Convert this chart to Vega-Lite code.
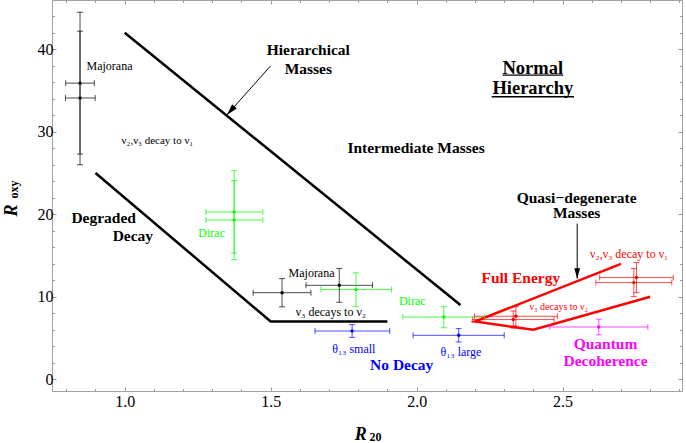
{
  "$schema": "https://vega.github.io/schema/vega-lite/v6.json",
  "width": 630,
  "height": 391,
  "autosize": "none",
  "padding": {"left": 52, "top": 0, "right": 4, "bottom": 52},
  "background": "white",
  "config": {
    "view": {"stroke": "#a0a0a0", "strokeWidth": 1},
    "font": "Liberation Serif",
    "axis": {"domain": false, "grid": false, "tickColor": "#999999", "tickWidth": 1, "labelFont": "Liberation Serif", "labelFontSize": 16, "labelColor": "#000000", "labelOverlap": false, "labelFlush": false, "labelBound": false}
  },
  "datasets": {
    "points": [
      {"series": "Majorana", "x": 0.847, "y": 35.9, "xlo": 0.798, "xhi": 0.896, "ylo": 27.3, "yhi": 44.5},
      {"series": "Majorana", "x": 0.847, "y": 34.1, "xlo": 0.797, "xhi": 0.899, "ylo": 26.0, "yhi": 42.2},
      {"series": "Dirac", "x": 1.375, "y": 20.28, "xlo": 1.278, "xhi": 1.473, "ylo": 15.3, "yhi": 25.3},
      {"series": "Dirac", "x": 1.375, "y": 19.31, "xlo": 1.278, "xhi": 1.473, "ylo": 14.5, "yhi": 24.1},
      {"series": "Majorana", "x": 1.539, "y": 10.5, "xlo": 1.44, "xhi": 1.638, "ylo": 8.78, "yhi": 12.2},
      {"series": "Majorana", "x": 1.735, "y": 11.39, "xlo": 1.621, "xhi": 1.849, "ylo": 9.34, "yhi": 13.44},
      {"series": "Dirac", "x": 1.792, "y": 10.87, "xlo": 1.672, "xhi": 1.914, "ylo": 8.83, "yhi": 12.91},
      {"series": "No Decay", "x": 1.779, "y": 5.85, "xlo": 1.652, "xhi": 1.908, "ylo": 5.08, "yhi": 6.62},
      {"series": "Dirac", "x": 2.093, "y": 7.55, "xlo": 1.953, "xhi": 2.233, "ylo": 6.25, "yhi": 8.85},
      {"series": "No Decay", "x": 2.144, "y": 5.33, "xlo": 1.988, "xhi": 2.3, "ylo": 4.52, "yhi": 6.14},
      {"series": "Full Energy", "x": 2.34, "y": 7.64, "xlo": 2.198, "xhi": 2.482, "ylo": 6.47, "yhi": 8.81},
      {"series": "Full Energy", "x": 2.331, "y": 7.24, "xlo": 2.191, "xhi": 2.471, "ylo": 6.21, "yhi": 8.27},
      {"series": "Full Energy", "x": 2.753, "y": 12.33, "xlo": 2.627, "xhi": 2.879, "ylo": 10.51, "yhi": 14.15},
      {"series": "Full Energy", "x": 2.744, "y": 11.72, "xlo": 2.614, "xhi": 2.874, "ylo": 10.02, "yhi": 13.42},
      {"series": "Quantum Decoherence", "x": 2.624, "y": 6.34, "xlo": 2.456, "xhi": 2.792, "ylo": 5.39, "yhi": 7.29}
    ],
    "lines": [
      {"series": "Model", "seg": "upper", "order": 1, "x": 1.0, "y": 42},
      {"series": "Model", "seg": "upper", "order": 2, "x": 2.15, "y": 9},
      {"series": "Model", "seg": "lower", "order": 1, "x": 0.9, "y": 25},
      {"series": "Model", "seg": "lower", "order": 2, "x": 1.5, "y": 7},
      {"series": "Model", "seg": "lower", "order": 3, "x": 1.9, "y": 7},
      {"series": "Full Energy", "seg": "full", "order": 1, "x": 2.7, "y": 14},
      {"series": "Full Energy", "seg": "full", "order": 2, "x": 2.2, "y": 7},
      {"series": "Full Energy", "seg": "full", "order": 3, "x": 2.4, "y": 6},
      {"series": "Full Energy", "seg": "full", "order": 4, "x": 2.8, "y": 10}
    ]
  },
  "layer": [
    {
      "data": {"name": "lines"},
      "mark": {"type": "line", "strokeWidth": 2.5},
      "encoding": {
        "x": {"field": "x", "type": "quantitative", "scale": {"domain": [0.751, 2.909], "nice": false, "zero": false},
          "axis": {"orient": "bottom", "title": null, "values": [0.8, 0.9, 1.0, 1.1, 1.2, 1.3, 1.4, 1.5, 1.6, 1.7, 1.8, 1.9, 2.0, 2.1, 2.2, 2.3, 2.4, 2.5, 2.6, 2.7, 2.8, 2.9],
            "labelExpr": "abs(datum.value*2-round(datum.value*2))<0.001 ? format(datum.value,'.1f') : ''",
            "tickSize": {"condition": {"test": "abs(datum.value*2-round(datum.value*2))<0.001", "value": -4}, "value": -2.5},
            "labelPadding": 6}},
        "y": {"field": "y", "type": "quantitative", "scale": {"domain": [-1.42, 45.98], "nice": false, "zero": false},
          "axis": {"orient": "left", "title": null, "values": [0, 2, 4, 6, 8, 10, 12, 14, 16, 18, 20, 22, 24, 26, 28, 30, 32, 34, 36, 38, 40, 42, 44],
            "labelExpr": "datum.value % 10 == 0 ? format(datum.value,'d') : ''",
            "tickSize": {"condition": {"test": "datum.value % 10 == 0", "value": -4}, "value": -2.5},
            "labelPadding": 3}},
        "color": {"field": "series", "type": "nominal", "scale": {"domain": ["Majorana", "Dirac", "No Decay", "Full Energy", "Quantum Decoherence", "Model"], "range": ["#000000", "#00ff00", "#0000ff", "#ff0000", "#ff00ff", "#000000"]}, "legend": null},
        "detail": {"field": "seg"},
        "order": {"field": "order", "type": "quantitative"}
      }
    },
    {
      "data": {"name": "points"},
      "mark": {"type": "rule", "strokeWidth": 1, "opacity": 0.7},
      "encoding": {
        "x": {"field": "xlo", "type": "quantitative", "scale": {"domain": [0.751, 2.909], "nice": false, "zero": false},
          "axis": {"orient": "top", "title": null, "labels": false, "values": [0.8, 0.9, 1.0, 1.1, 1.2, 1.3, 1.4, 1.5, 1.6, 1.7, 1.8, 1.9, 2.0, 2.1, 2.2, 2.3, 2.4, 2.5, 2.6, 2.7, 2.8, 2.9],
            "tickSize": {"condition": {"test": "abs(datum.value*2-round(datum.value*2))<0.001", "value": -4}, "value": -2.5}}},
        "x2": {"field": "xhi"},
        "y": {"field": "y", "type": "quantitative", "scale": {"domain": [-1.42, 45.98], "nice": false, "zero": false},
          "axis": {"orient": "right", "title": null, "labels": false, "values": [0, 2, 4, 6, 8, 10, 12, 14, 16, 18, 20, 22, 24, 26, 28, 30, 32, 34, 36, 38, 40, 42, 44],
            "tickSize": {"condition": {"test": "datum.value % 10 == 0", "value": -4}, "value": -2.5}}},
        "color": {"field": "series", "type": "nominal", "scale": {"domain": ["Majorana", "Dirac", "No Decay", "Full Energy", "Quantum Decoherence", "Model"], "range": ["#000000", "#00ff00", "#0000ff", "#ff0000", "#ff00ff", "#000000"]}, "legend": null}
      }
    },
    {
      "data": {"name": "points"},
      "mark": {"type": "rule", "strokeWidth": 1, "opacity": 0.7},
      "encoding": {
        "x": {"field": "x", "type": "quantitative", "scale": {"domain": [0.751, 2.909], "nice": false, "zero": false}, "axis": null},
        "y": {"field": "ylo", "type": "quantitative", "scale": {"domain": [-1.42, 45.98], "nice": false, "zero": false}, "axis": null},
        "y2": {"field": "yhi"},
        "color": {"field": "series", "type": "nominal", "scale": {"domain": ["Majorana", "Dirac", "No Decay", "Full Energy", "Quantum Decoherence", "Model"], "range": ["#000000", "#00ff00", "#0000ff", "#ff0000", "#ff00ff", "#000000"]}, "legend": null}
      }
    },
    {
      "data": {"name": "points"},
      "transform": [{"fold": ["xlo", "xhi"], "as": ["end", "xv"]}],
      "mark": {"type": "tick", "orient": "vertical", "size": 6, "thickness": 1, "opacity": 0.7},
      "encoding": {
        "x": {"field": "xv", "type": "quantitative", "scale": {"domain": [0.751, 2.909], "nice": false, "zero": false}, "axis": null},
        "y": {"field": "y", "type": "quantitative", "scale": {"domain": [-1.42, 45.98], "nice": false, "zero": false}, "axis": null},
        "color": {"field": "series", "type": "nominal", "scale": {"domain": ["Majorana", "Dirac", "No Decay", "Full Energy", "Quantum Decoherence", "Model"], "range": ["#000000", "#00ff00", "#0000ff", "#ff0000", "#ff00ff", "#000000"]}, "legend": null}
      }
    },
    {
      "data": {"name": "points"},
      "transform": [{"fold": ["ylo", "yhi"], "as": ["end", "yv"]}],
      "mark": {"type": "tick", "orient": "horizontal", "size": 6, "thickness": 1, "opacity": 0.7},
      "encoding": {
        "x": {"field": "x", "type": "quantitative", "scale": {"domain": [0.751, 2.909], "nice": false, "zero": false}, "axis": null},
        "y": {"field": "yv", "type": "quantitative", "scale": {"domain": [-1.42, 45.98], "nice": false, "zero": false}, "axis": null},
        "color": {"field": "series", "type": "nominal", "scale": {"domain": ["Majorana", "Dirac", "No Decay", "Full Energy", "Quantum Decoherence", "Model"], "range": ["#000000", "#00ff00", "#0000ff", "#ff0000", "#ff00ff", "#000000"]}, "legend": null}
      }
    },
    {
      "data": {"name": "points"},
      "mark": {"type": "point", "filled": true, "size": 12, "opacity": 1},
      "encoding": {
        "x": {"field": "x", "type": "quantitative", "scale": {"domain": [0.751, 2.909], "nice": false, "zero": false}, "axis": null},
        "y": {"field": "y", "type": "quantitative", "scale": {"domain": [-1.42, 45.98], "nice": false, "zero": false}, "axis": null},
        "color": {"field": "series", "type": "nominal", "scale": {"domain": ["Majorana", "Dirac", "No Decay", "Full Energy", "Quantum Decoherence", "Model"], "range": ["#000000", "#00ff00", "#0000ff", "#ff0000", "#ff00ff", "#000000"]}, "legend": null}
      }
    },
    {
      "data": {"values": [
        {"label": "Hierarchical Masses", "x": 1.5, "y": 38, "x2": 1.35, "y2": 32.05},
        {"label": "Quasi-degenerate Masses", "x": 2.55, "y": 18.87, "x2": 2.55, "y2": 12.2}
      ]},
      "mark": {"type": "rule", "strokeWidth": 1, "color": "#000000"},
      "encoding": {
        "x": {"field": "x", "type": "quantitative", "scale": {"domain": [0.751, 2.909], "nice": false, "zero": false}, "axis": null},
        "y": {"field": "y", "type": "quantitative", "scale": {"domain": [-1.42, 45.98], "nice": false, "zero": false}, "axis": null},
        "x2": {"field": "x2"},
        "y2": {"field": "y2"}
      }
    },
    {
      "data": {"values": [{"x": 1.35, "y": 32.05}]},
      "mark": {"type": "point", "shape": "M0,0L0.55,2L-0.55,2Z", "filled": true, "color": "#000000", "opacity": 1, "size": 130, "angle": 221.7},
      "encoding": {
        "x": {"field": "x", "type": "quantitative", "scale": {"domain": [0.751, 2.909], "nice": false, "zero": false}, "axis": null},
        "y": {"field": "y", "type": "quantitative", "scale": {"domain": [-1.42, 45.98], "nice": false, "zero": false}, "axis": null}
      }
    },
    {
      "data": {"values": [{"x": 2.55, "y": 12.2}]},
      "mark": {"type": "point", "shape": "M0,0L0.55,2L-0.55,2Z", "filled": true, "color": "#000000", "opacity": 1, "size": 110, "angle": 180},
      "encoding": {
        "x": {"field": "x", "type": "quantitative", "scale": {"domain": [0.751, 2.909], "nice": false, "zero": false}, "axis": null},
        "y": {"field": "y", "type": "quantitative", "scale": {"domain": [-1.42, 45.98], "nice": false, "zero": false}, "axis": null}
      }
    },
    {
      "data": {"values": [
        {"x1": 2.2945, "x2": 2.502, "y": 36.88},
        {"x1": 2.257, "x2": 2.539, "y": 34.25}
      ]},
      "mark": {"type": "rule", "strokeWidth": 1.3, "color": "#000000"},
      "encoding": {
        "x": {"field": "x1", "type": "quantitative", "scale": {"domain": [0.751, 2.909], "nice": false, "zero": false}, "axis": null},
        "x2": {"field": "x2"},
        "y": {"field": "y", "type": "quantitative", "scale": {"domain": [-1.42, 45.98], "nice": false, "zero": false}, "axis": null}
      }
    },
    {
      "data": {"values": [
        {"text": "Majorana", "series": "Majorana", "x": 0.948, "y": 37.98},
        {"text": "Majorana", "series": "Majorana", "x": 1.64, "y": 12.85},
        {"text": "ν₃ decays to ν₂", "series": "Model", "x": 1.7065, "y": 8.19},
        {"text": "θ₁₃ small", "series": "No Decay", "x": 1.785, "y": 3.67},
        {"text": "θ₁₃ large", "series": "No Decay", "x": 2.152, "y": 3.27},
        {"text": "Dirac", "series": "Dirac", "x": 1.298, "y": 17.7},
        {"text": "Dirac", "series": "Dirac", "x": 1.985, "y": 9.49},
        {"text": "ν₂,ν₃ decay to ν₁", "series": "Full Energy", "x": 2.728, "y": 15.19}
      ]},
      "mark": {"type": "text", "font": "Liberation Serif", "fontSize": 12, "align": "center", "baseline": "middle"},
      "encoding": {
        "x": {"field": "x", "type": "quantitative", "scale": {"domain": [0.751, 2.909], "nice": false, "zero": false}, "axis": null},
        "y": {"field": "y", "type": "quantitative", "scale": {"domain": [-1.42, 45.98], "nice": false, "zero": false}, "axis": null},
        "text": {"field": "text"},
        "color": {"field": "series", "type": "nominal", "scale": {"domain": ["Majorana", "Dirac", "No Decay", "Full Energy", "Quantum Decoherence", "Model"], "range": ["#000000", "#00ff00", "#0000ff", "#ff0000", "#ff00ff", "#000000"]}, "legend": null}
      }
    },
    {
      "data": {"values": [
        {"text": "ν₂,ν₃ decay to ν₁", "series": "Model", "x": 1.112, "y": 28.88}
      ]},
      "mark": {"type": "text", "font": "Liberation Serif", "fontSize": 11, "align": "center", "baseline": "middle"},
      "encoding": {
        "x": {"field": "x", "type": "quantitative", "scale": {"domain": [0.751, 2.909], "nice": false, "zero": false}, "axis": null},
        "y": {"field": "y", "type": "quantitative", "scale": {"domain": [-1.42, 45.98], "nice": false, "zero": false}, "axis": null},
        "text": {"field": "text"},
        "color": {"field": "series", "type": "nominal", "scale": {"domain": ["Majorana", "Dirac", "No Decay", "Full Energy", "Quantum Decoherence", "Model"], "range": ["#000000", "#00ff00", "#0000ff", "#ff0000", "#ff00ff", "#000000"]}, "legend": null}
      }
    },
    {
      "data": {"values": [
        {"text": "ν₃ decays to ν₂", "series": "Full Energy", "x": 2.487, "y": 8.8}
      ]},
      "mark": {"type": "text", "font": "Liberation Serif", "fontSize": 10, "align": "center", "baseline": "middle"},
      "encoding": {
        "x": {"field": "x", "type": "quantitative", "scale": {"domain": [0.751, 2.909], "nice": false, "zero": false}, "axis": null},
        "y": {"field": "y", "type": "quantitative", "scale": {"domain": [-1.42, 45.98], "nice": false, "zero": false}, "axis": null},
        "text": {"field": "text"},
        "color": {"field": "series", "type": "nominal", "scale": {"domain": ["Majorana", "Dirac", "No Decay", "Full Energy", "Quantum Decoherence", "Model"], "range": ["#000000", "#00ff00", "#0000ff", "#ff0000", "#ff00ff", "#000000"]}, "legend": null}
      }
    },
    {
      "data": {"values": [
        {"text": "Hierarchical", "series": "Model", "x": 1.629, "y": 39.92},
        {"text": "Masses", "series": "Model", "x": 1.629, "y": 37.58},
        {"text": "Intermediate Masses", "series": "Model", "x": 1.998, "y": 28.0},
        {"text": "Degraded", "series": "Model", "x": 0.928, "y": 19.52},
        {"text": "Decay", "series": "Model", "x": 1.028, "y": 17.41},
        {"text": "Quasi−degenerate", "series": "Model", "x": 2.548, "y": 22.01},
        {"text": "Masses", "series": "Model", "x": 2.548, "y": 20.12},
        {"text": "Full Energy", "series": "Full Energy", "x": 2.357, "y": 12.32},
        {"text": "No Decay", "series": "No Decay", "x": 1.949, "y": 1.73},
        {"text": "Quantum", "series": "Quantum Decoherence", "x": 2.647, "y": 4.3},
        {"text": "Decoherence", "series": "Quantum Decoherence", "x": 2.647, "y": 2.24}
      ]},
      "mark": {"type": "text", "font": "Liberation Serif", "fontSize": 15.5, "fontWeight": "bold", "align": "center", "baseline": "middle"},
      "encoding": {
        "x": {"field": "x", "type": "quantitative", "scale": {"domain": [0.751, 2.909], "nice": false, "zero": false}, "axis": null},
        "y": {"field": "y", "type": "quantitative", "scale": {"domain": [-1.42, 45.98], "nice": false, "zero": false}, "axis": null},
        "text": {"field": "text"},
        "color": {"field": "series", "type": "nominal", "scale": {"domain": ["Majorana", "Dirac", "No Decay", "Full Energy", "Quantum Decoherence", "Model"], "range": ["#000000", "#00ff00", "#0000ff", "#ff0000", "#ff00ff", "#000000"]}, "legend": null}
      }
    },
    {
      "data": {"values": [
        {"text": "Normal", "x": 2.398, "y": 37.77},
        {"text": "Hierarchy", "x": 2.398, "y": 35.27}
      ]},
      "mark": {"type": "text", "font": "Liberation Serif", "fontSize": 18.5, "fontWeight": "bold", "align": "center", "baseline": "middle", "color": "#000000"},
      "encoding": {
        "x": {"field": "x", "type": "quantitative", "scale": {"domain": [0.751, 2.909], "nice": false, "zero": false}, "axis": null},
        "y": {"field": "y", "type": "quantitative", "scale": {"domain": [-1.42, 45.98], "nice": false, "zero": false}, "axis": null},
        "text": {"field": "text"}
      }
    },
    {
      "data": {"values": [
        {"text": "R", "x": 1.809, "y": -7.3}
      ]},
      "mark": {"type": "text", "font": "Liberation Serif", "fontSize": 18, "fontWeight": "bold", "fontStyle": "italic", "align": "center", "baseline": "alphabetic", "color": "#000000"},
      "encoding": {
        "x": {"field": "x", "type": "quantitative", "scale": {"domain": [0.751, 2.909], "nice": false, "zero": false}, "axis": null},
        "y": {"field": "y", "type": "quantitative", "scale": {"domain": [-1.42, 45.98], "nice": false, "zero": false}, "axis": null},
        "text": {"field": "text"}
      }
    },
    {
      "data": {"values": [
        {"text": "20", "x": 1.859, "y": -7.52}
      ]},
      "mark": {"type": "text", "font": "Liberation Serif", "fontSize": 12, "fontWeight": "bold", "align": "center", "baseline": "alphabetic", "color": "#000000"},
      "encoding": {
        "x": {"field": "x", "type": "quantitative", "scale": {"domain": [0.751, 2.909], "nice": false, "zero": false}, "axis": null},
        "y": {"field": "y", "type": "quantitative", "scale": {"domain": [-1.42, 45.98], "nice": false, "zero": false}, "axis": null},
        "text": {"field": "text"}
      }
    },
    {
      "data": {"values": [
        {"text": "R", "x": 0.6295, "y": 20.46}
      ]},
      "mark": {"type": "text", "font": "Liberation Serif", "fontSize": 18, "fontWeight": "bold", "fontStyle": "italic", "align": "center", "baseline": "alphabetic", "angle": 270, "color": "#000000"},
      "encoding": {
        "x": {"field": "x", "type": "quantitative", "scale": {"domain": [0.751, 2.909], "nice": false, "zero": false}, "axis": null},
        "y": {"field": "y", "type": "quantitative", "scale": {"domain": [-1.42, 45.98], "nice": false, "zero": false}, "axis": null},
        "text": {"field": "text"}
      }
    },
    {
      "data": {"values": [
        {"text": "oxy", "x": 0.6346, "y": 23.0}
      ]},
      "mark": {"type": "text", "font": "Liberation Serif", "fontSize": 12, "fontWeight": "bold", "align": "center", "baseline": "alphabetic", "angle": 270, "color": "#000000"},
      "encoding": {
        "x": {"field": "x", "type": "quantitative", "scale": {"domain": [0.751, 2.909], "nice": false, "zero": false}, "axis": null},
        "y": {"field": "y", "type": "quantitative", "scale": {"domain": [-1.42, 45.98], "nice": false, "zero": false}, "axis": null},
        "text": {"field": "text"}
      }
    }
  ],
  "resolve": {"axis": {"x": "independent", "y": "independent"}}
}
